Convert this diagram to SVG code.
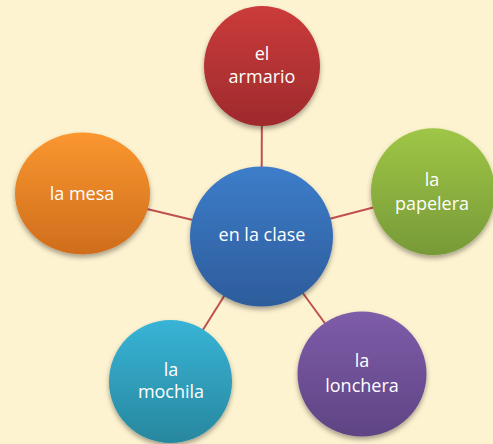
<svg xmlns="http://www.w3.org/2000/svg" width="493" height="444" viewBox="0 0 493 444">
<defs>
<linearGradient id="gBlue" x1="0" y1="0" x2="0" y2="1"><stop offset="0" stop-color="#3D7DCA"/><stop offset="1" stop-color="#2D5C9B"/></linearGradient>
<linearGradient id="gRed" x1="0" y1="0" x2="0" y2="1"><stop offset="0" stop-color="#CB3B3B"/><stop offset="1" stop-color="#9E2A2C"/></linearGradient>
<linearGradient id="gGreen" x1="0" y1="0" x2="0" y2="1"><stop offset="0" stop-color="#9FC646"/><stop offset="1" stop-color="#779A38"/></linearGradient>
<linearGradient id="gPurple" x1="0" y1="0" x2="0" y2="1"><stop offset="0" stop-color="#7E5CA9"/><stop offset="1" stop-color="#5F4484"/></linearGradient>
<linearGradient id="gCyan" x1="0" y1="0" x2="0" y2="1"><stop offset="0" stop-color="#38B4D6"/><stop offset="1" stop-color="#28879F"/></linearGradient>
<linearGradient id="gOrange" x1="0" y1="0" x2="0" y2="1"><stop offset="0" stop-color="#FA972F"/><stop offset="1" stop-color="#CF6D1D"/></linearGradient>
<filter id="shadow" x="-20%" y="-20%" width="140%" height="150%"><feDropShadow dx="0" dy="3" stdDeviation="2.5" flood-color="#000" flood-opacity="0.35"/></filter>
</defs>
<style>
.node{filter:url(#shadow)}
.lbl{font-family:"Open Sans","Liberation Sans",sans-serif;font-size:18px;fill:#FFFFFF;text-anchor:middle}
.conn line{stroke:#C0504D;stroke-width:2}
</style>
<rect width="493" height="444" fill="#FEF3D0"/>
<g id="connectors" class="conn">
<line x1="261.5" y1="236.5" x2="262" y2="66"/>
<line x1="261.5" y1="236.5" x2="433" y2="192"/>
<line x1="261.5" y1="236.5" x2="82.5" y2="193.5"/>
<line x1="261.5" y1="236.5" x2="170.5" y2="381.5"/>
<line x1="261.5" y1="236.5" x2="362" y2="374"/>
</g>
<g id="node-center">
<ellipse class="node" cx="261.5" cy="236.5" rx="71.5" ry="70" fill="url(#gBlue)"/>
<text class="lbl" x="262" y="241">en la clase</text>
</g>
<g id="node-armario">
<ellipse class="node" cx="262" cy="66" rx="58" ry="60" fill="url(#gRed)"/>
<text class="lbl" x="262" y="60">el</text>
<text class="lbl" x="262" y="83">armario</text>
</g>
<g id="node-papelera">
<ellipse class="node" cx="433" cy="191.7" rx="62" ry="63.5" fill="url(#gGreen)"/>
<text class="lbl" x="432" y="186">la</text>
<text class="lbl" x="432" y="210">papelera</text>
</g>
<g id="node-lonchera">
<ellipse class="node" cx="362" cy="374" rx="64.5" ry="62.5" fill="url(#gPurple)"/>
<text class="lbl" x="362" y="367">la</text>
<text class="lbl" x="362" y="392">lonchera</text>
</g>
<g id="node-mochila">
<ellipse class="node" cx="170.5" cy="381.5" rx="61.5" ry="61.5" fill="url(#gCyan)"/>
<text class="lbl" x="171" y="376">la</text>
<text class="lbl" x="171" y="398">mochila</text>
</g>
<g id="node-mesa">
<ellipse class="node" cx="82.5" cy="193.5" rx="67.5" ry="61" fill="url(#gOrange)"/>
<text class="lbl" x="82" y="200">la mesa</text>
</g>
</svg>
